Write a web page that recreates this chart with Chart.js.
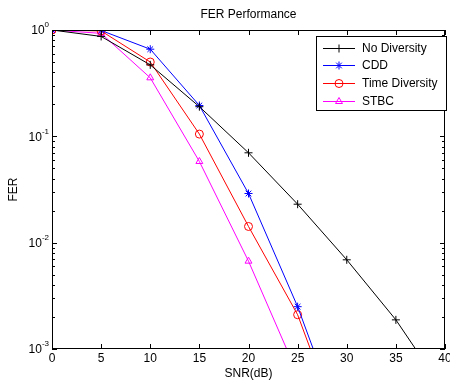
<!DOCTYPE html>
<html>
<head>
<meta charset="utf-8">
<script src="https://cdn.jsdelivr.net/npm/chart.js@4"></script>
<style>
  body { margin: 0; background: #fff; }
  #wrap { width: 450px; height: 383px; }
</style>
</head>
<body>
<div id="wrap"><canvas id="fer-chart" width="450" height="383"></canvas></div>
<script>
/* data */
let snr = [0, 5, 10, 15, 20, 25, 30, 35, 40]
let noDiversity = [1.0, 0.87, 0.47, 0.19, 0.070, 0.023, 0.0069, 0.00188, 0.00039]
let cdd = [1.0, 0.99, 0.66, 0.195, 0.029, 0.0025, 0.00014]
let timeDiversity = [1.0, 0.98, 0.50, 0.105, 0.0142, 0.0021, 0.00012]
let stbc = [1.0, 0.93, 0.355, 0.058, 0.0067, 0.00058]

let xTicks = [0, 5, 10, 15, 20, 25, 30, 35, 40]
let yDecades = [0, -1, -2, -3]

let fontName = '"Liberation Sans", Arial, sans-serif'

function toPoints(values) {
    return values.map(function(v, i) { return { x: snr[i], y: v } })
}

// ticks, box, labels and legend in the MATLAB look
let matlabAxes = {
    id: 'matlabAxes',
    afterDraw: function(chart) {
        let ctx = chart.ctx
        let area = chart.chartArea
        let xs = chart.scales.x
        let ys = chart.scales.y
        ctx.save()
        ctx.strokeStyle = '#000'
        ctx.fillStyle = '#000'
        ctx.lineWidth = 1

        // box
        ctx.strokeRect(area.left + 0.5, area.top + 0.5, area.right - area.left - 1, area.bottom - area.top - 1)

        // x ticks (bottom and top, inside)
        ctx.beginPath()
        xTicks.forEach(function(t) {
            let px = Math.round(xs.getPixelForValue(t)) + 0.5
            ctx.moveTo(px, area.bottom); ctx.lineTo(px, area.bottom - 5)
            ctx.moveTo(px, area.top); ctx.lineTo(px, area.top + 5)
        })
        // y ticks, major and minor, on left and right
        for (let d = -3; d < 0; d++) {
            for (let m = 1; m <= 9; m++) {
                let py = Math.round(ys.getPixelForValue(m * Math.pow(10, d))) + 0.5
                let len = m === 1 ? 5 : 3
                ctx.moveTo(area.left, py); ctx.lineTo(area.left + len, py)
                ctx.moveTo(area.right, py); ctx.lineTo(area.right - len, py)
            }
        }
        ctx.stroke()

        // x tick labels
        ctx.font = '12px ' + fontName
        ctx.textAlign = 'center'
        ctx.textBaseline = 'middle'
        xTicks.forEach(function(t) {
            ctx.fillText(String(t), xs.getPixelForValue(t), area.bottom + 10)
        })

        // y tick labels with superscript exponents
        yDecades.forEach(function(d) {
            let py = ys.getPixelForValue(Math.pow(10, d))
            let exp = String(d)
            ctx.font = '8px ' + fontName
            let expW = ctx.measureText(exp).width
            ctx.textAlign = 'left'
            ctx.fillText(exp, area.left - 3 - expW, py - 5)
            ctx.font = '12px ' + fontName
            ctx.textAlign = 'right'
            ctx.fillText('10', area.left - 3 - expW, py + 1)
        })

        // title and axis titles
        ctx.font = '12px ' + fontName
        ctx.textAlign = 'center'
        ctx.fillText('FER Performance', (area.left + area.right) / 2, 15)
        ctx.fillText('SNR(dB)', (area.left + area.right) / 2, 374)
        ctx.save()
        ctx.translate(14, (area.top + area.bottom) / 2)
        ctx.rotate(-Math.PI / 2)
        ctx.fillText('FER', 0, 0)
        ctx.restore()

        // legend box
        let lx = 316, ly = 36, lw = 130, lh = 74
        ctx.fillStyle = '#fff'
        ctx.fillRect(lx, ly, lw, lh)
        ctx.strokeStyle = '#000'
        ctx.strokeRect(lx + 0.5, ly + 0.5, lw, lh)
        chart.data.datasets.forEach(function(ds, i) {
            let rowY = Math.round(ly + 11.5 + i * 17.7) + 0.5
            ctx.strokeStyle = ds.borderColor
            ctx.lineWidth = 1
            ctx.beginPath()
            ctx.moveTo(lx + 7, rowY)
            ctx.lineTo(lx + 39, rowY)
            ctx.stroke()
            ctx.fillStyle = 'rgba(0,0,0,0)'
            Chart.helpers.drawPoint(ctx, {
                pointStyle: ds.pointStyle,
                radius: ds.pointRadius,
                borderWidth: 1
            }, lx + 23, rowY)
            ctx.fillStyle = '#000'
            ctx.font = '12px ' + fontName
            ctx.textAlign = 'left'
            ctx.fillText(ds.label, lx + 46, rowY)
        })
        ctx.restore()
    }
}

function makeSet(label, values, color, style) {
    return {
        label: label,
        data: toPoints(values),
        borderColor: color,
        backgroundColor: 'rgba(0,0,0,0)',
        pointBorderColor: color,
        pointBackgroundColor: 'rgba(0,0,0,0)',
        pointStyle: style,
        pointRadius: 4,
        pointBorderWidth: 1,
        borderWidth: 1,
        tension: 0
    }
}

let ctx = document.querySelector('#fer-chart').getContext('2d')

let ferChart = new Chart(ctx, {
    type: 'line',
    data: {
        datasets: [
            makeSet('No Diversity', noDiversity, '#000000', 'cross'),
            makeSet('CDD', cdd, '#0000ff', 'star'),
            makeSet('Time Diversity', timeDiversity, '#ff0000', 'circle'),
            makeSet('STBC', stbc, '#ff00ff', 'triangle')
        ]
    },
    options: {
        responsive: false,
        animation: false,
        layout: { padding: { left: 52, right: 2, top: 30, bottom: 34 } },
        scales: {
            x: { type: 'linear', min: 0, max: 40, display: false },
            y: { type: 'logarithmic', min: 0.001, max: 1, display: false }
        },
        plugins: {
            legend: { display: false },
            tooltip: { enabled: false }
        }
    },
    plugins: [matlabAxes]
})
</script>
</body>
</html>
